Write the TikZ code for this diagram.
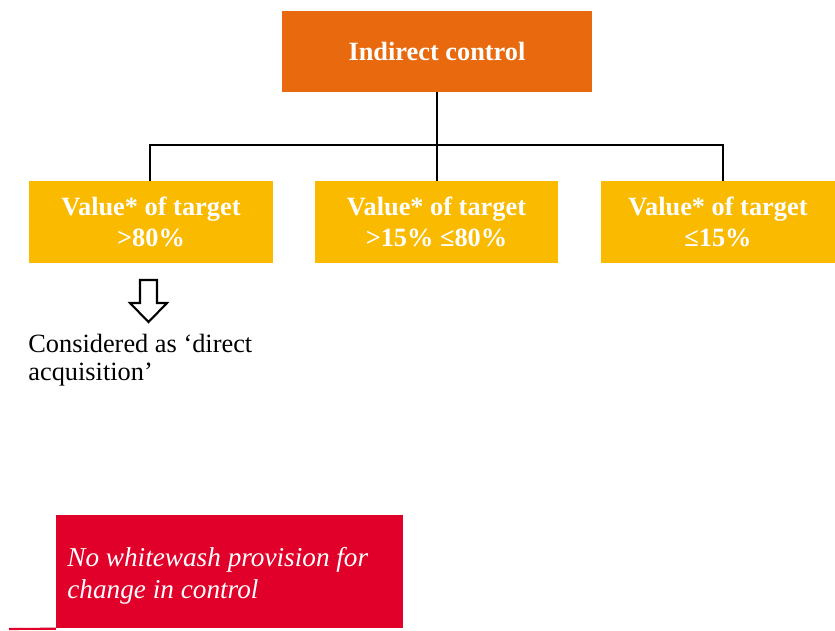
\documentclass[tikz,border=0pt]{standalone}
\usepackage{fontspec}
\setmainfont{Liberation Serif}

\definecolor{ctrlorange}{HTML}{E8690E}
\definecolor{valyellow}{HTML}{F9BA00}
\definecolor{notered}{HTML}{E0002A}

\tikzset{
	topbox/.style={fill=ctrlorange,text=white,font=\bfseries\fontsize{15}{18}\selectfont,minimum width=6.2cm,minimum height=1.62cm,inner sep=0pt},
	valbox/.style={fill=valyellow,text=white,font=\bfseries\fontsize{15}{18}\selectfont,minimum height=1.64cm,inner sep=0pt,align=center},
	link/.style={black,line width=1.2pt},
}

\begin{document}
\begin{tikzpicture}[x=0.02cm,y=-0.02cm]
	\useasboundingbox (0,0) rectangle (835,630);

	\node[topbox] (ctrl) at (437,51.5) {Indirect control};

	\node[valbox,minimum width=4.88cm] (high) at (151,222) {Value* of target\\>80\%};
	\node[valbox,minimum width=4.86cm] (mid) at (436.5,222) {Value* of target\\>15\% ≤80\%};
	\node[valbox,minimum width=4.68cm] (low) at (718,222) {Value* of target\\≤15\%};

	\coordinate (bar) at (437,145);
	\draw[link] (ctrl.south) -- (ctrl.south |- mid.north);
	\draw[link] (high.north -| 150,0) |- (bar) -| (low.north -| 723,0);

	% hollow block arrow
	\draw[line width=1.2pt,miter limit=10] (140,280) -- (157,280) -- (157,303) -- (167,303) -- (148.5,322) -- (130,303) -- (140,303) -- cycle;

	\node[anchor=north west,align=left,font=\fontsize{15}{16}\selectfont,inner sep=0pt] (direct) at (28,334) {Considered as `direct\\acquisition'};

	\node[fill=notered,anchor=north west,minimum width=6.94cm,minimum height=2.26cm,inner sep=0pt] (note) at (56,515) {};
	\node[anchor=west,align=left,text=white,font=\itshape\fontsize{15.5}{18.2}\selectfont,inner sep=0pt] (notetext) at (67,576) {No whitewash provision for\\change in control};
	\draw[notered,line width=1.2pt] (9,629) -- (note.south west);
\end{tikzpicture}
\end{document}
